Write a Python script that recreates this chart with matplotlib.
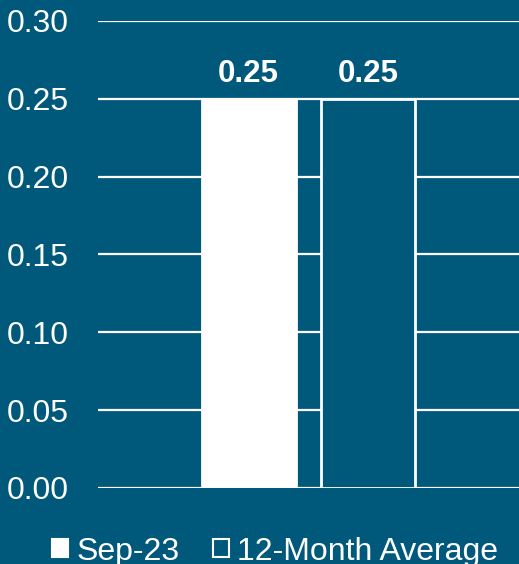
import matplotlib.pyplot as plt
from matplotlib.patches import Patch

plt.rcParams['font.family'] = ['Liberation Sans', 'DejaVu Sans']

series = ['Sep-23', '12-Month Average']
values = [0.25, 0.25]
yticks = [0.00, 0.05, 0.10, 0.15, 0.20, 0.25, 0.30]

bg = '#00597B'
fig = plt.figure(figsize=(5.19, 5.64), dpi=100, facecolor=bg)
ax = fig.add_axes([0.1888, 0.1348, 0.8112, 0.828])
ax.set_facecolor(bg)

offsets = [-0.142, 0.142]
w = 0.224
faces = ['white', bg]
for off, v, fc in zip(offsets, values, faces):
    ax.bar(off, v, width=w, facecolor=fc, edgecolor='white', linewidth=2, zorder=3)
    ax.text(off, v + 0.011, '%.2f' % v, ha='center', va='baseline',
            color='white', fontsize=22.5, fontweight='bold')

ax.set_xlim(-0.5, 0.5)
ax.set_ylim(0, 0.30)
ax.set_yticks(yticks)
ax.set_yticklabels(['%.2f' % t for t in yticks])
ax.set_xticks([])
ax.tick_params(axis='y', length=0, pad=21, labelsize=23, labelcolor='white')
ax.grid(axis='y', color='white', linewidth=1.6, zorder=0)
for s in ax.spines.values():
    s.set_visible(False)

handles = [Patch(facecolor='white', edgecolor='white', linewidth=1.5),
           Patch(facecolor=bg, edgecolor='white', linewidth=1.5)]
leg = fig.legend(handles, series, loc='center', bbox_to_anchor=(0.53, 0.022),
                 ncol=2, frameon=False, fontsize=23, labelcolor='white', borderpad=0,
                 handlelength=0.5, handleheight=0.5, handletextpad=0.25, columnspacing=1.05)

fig.savefig('out.png', dpi=100, facecolor=bg)
